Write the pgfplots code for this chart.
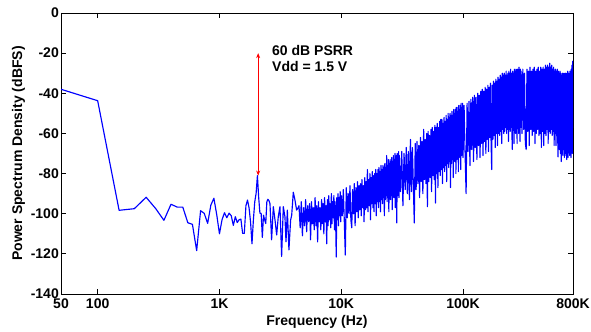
\documentclass[border=0pt]{standalone}
\usepackage{pgfplots}
\pgfplotsset{compat=1.18}
\usepackage{fontspec}
\setmainfont{Liberation Sans}
\usetikzlibrary{arrows.meta}
\definecolor{mblue}{RGB}{0,0,255}
\definecolor{mred}{RGB}{255,0,0}
\begin{document}
\fontsize{14bp}{16.7bp}\selectfont\bfseries
\begin{tikzpicture}
\begin{axis}[
  scale only axis,
  width=512bp, height=281bp,
  xmode=log,
  xmin=50, xmax=800000,
  ymin=-140, ymax=0,
  xtick={50,100,1000,10000,100000,800000},
  xticklabels={50,100,1K,10K,100K,800K},
  ytick={-140,-120,-100,-80,-60,-40,-20,0},
  yticklabels={-140,-120,-100,-80,-60,-40,-20,0},
  minor xtick={}, minor ytick={},
  tick align=inside,
  major tick length=5bp,
  tick style={black, line width=0.8bp},
  axis line style={black, line width=0.9bp},
  xticklabel style={inner sep=0pt, yshift=-5bp, font=\fontsize{14bp}{16bp}\selectfont\bfseries},
  yticklabel style={inner sep=0pt, xshift=-2bp, font=\fontsize{14bp}{16bp}\selectfont\bfseries},
  xlabel={Frequency (Hz)},
  ylabel={Power Spectrum Density (dBFS)},
  xlabel style={at={(axis description cs:0.5,0)}, anchor=north, inner sep=0pt, yshift=-21bp, font=\fontsize{14bp}{16bp}\selectfont\bfseries},
  ylabel style={at={(axis description cs:-0.083,0.5)}, anchor=center, inner sep=0pt, font=\fontsize{14bp}{16bp}\selectfont\bfseries},
  clip=true,
]
\addplot[mblue, line width=1.15bp, line join=round] table {
x y
50 -38
100 -43.7
150 -98.3
200 -97.5
250 -91.8
300 -97.5
350 -103.3
400 -95.3
450 -96.7
500 -96.7
550 -104.5
600 -105.3
650 -118.4
700 -98.5
750 -99.8
800 -104.8
850 -95.7
900 -92.3
950 -100.5
1000 -110
1050 -103
1100 -99.5
1150 -102
1200 -99.7
1250 -101
1300 -105.8
1350 -101.5
1400 -104.4
1450 -103
1500 -102.7
1550 -109.8
1600 -109.8
1650 -96
1700 -93.2
1750 -97
1800 -104
1850 -115
1900 -103
1950 -94
2000 -89.9
2050 -81
2100 -92
2150 -99.8
2200 -99.8
2250 -111.8
2300 -100.7
2350 -103
2400 -104.9
2450 -94
2500 -92.8
2550 -93.5
2600 -95
2680 -113
2770 -96.5
2860 -103.2
2950 -110.6
3040 -101.6
3140 -96.5
3240 -121.3
3345 -96.5
3450 -101.6
3520 -114
3610 -98.2
3720 -118
3840 -103.2
3920 -100.7
4040 -89.3
4170 -93.2
4300 -98.2
4400 -97.3
4500 -96
4600 -107
4700 -94
4800 -111
4900 -97
5000 -106
5100 -93
5200 -109
5300 -96
5400 -104
5500 -95
5600 -113
5700 -94
5800 -105
5900 -97
6000 -108
6100 -92
6200 -106
6300 -96
6400 -114
6500 -94
6600 -104
6700 -97
6800 -108
6900 -93
7000 -105
7100 -95
7200 -110
7300 -92
7400 -104
7500 -96
7600 -115
7700 -93
7800 -106
7900 -91
8000 -103
8100 -95
8200 -107
8300 -90
8400 -105
8500 -94
8600 -102
8700 -91
8800 -108
8900 -94
9000 -104
9100 -121.6
9200 -92
9300 -103
9400 -90
9500 -106
9600 -92
9700 -101
9800 -89
9900 -104
10000 -91
10200 -101
10400 -88
10600 -104
10800 -120.6
11000 -87
11200 -102
11400 -90
11600 -100
11800 -86
12000 -103
12200 -107
12400 -88
12600 -100
12800 -85
13000 -106
13200 -87
13400 -99
13600 -84
13800 -102
14000 -86
14200 -98
14400 -85
14600 -101
14800 -83
15000 -97
15200 -86
15400 -104
15600 -82
15800 -98
16000 -84
16200 -97
16400 -78
16600 -99
16800 -83
17000 -96
17200 -80
17400 -103
17600 -82
17800 -95
18000 -79
18200 -97
18400 -81
18600 -99
18800 -80
19000 -95
19200 -78
19400 -101
19600 -80
19800 -94
20000 -78
20200 -97
20400 -77
20600 -94
20800 -79
21000 -99
21200 -76
21400 -93
21600 -78
21800 -95
22000 -76
22200 -92
22400 -77
22600 -101
22800 -75
23000 -93
23200 -77
23400 -91
23600 -71
23800 -94
24000 -76
24200 -92
24400 -73
24600 -99
24800 -75
25000 -91
25200 -73
25400 -93
25600 -74
25800 -90
26000 -72
26200 -98
26400 -74
26600 -91
26800 -71
27000 -92
27200 -73
27400 -89
27600 -70
27800 -97
28000 -72
28200 -90
28400 -71
28600 -104.6
28800 -70
29000 -91
29200 -72
29400 -89
29600 -69
29800 -92
30000 -71
30700 -89
31400 -69
32100 -96
32800 -70
33500 -88
34200 -67
34900 -90
35600 -69
36300 -93
37000 -63
37700 -89
38400 -67
39100 -86
39800 -104.6
40500 -65
41200 -88
41900 -64
42600 -85
43300 -66
44000 -92
44700 -62
45400 -84
46100 -64
46800 -90
47500 -58
48200 -83
48900 -63
49600 -85
50300 -60
51000 -96.5
51700 -59
52400 -84
53100 -61
53800 -82
54500 -58
55200 -89
55900 -57
56600 -81
57300 -59
58000 -83
58700 -56
59400 -94.7
60100 -57
60800 -80
61500 -55
62200 -87
62900 -57
63600 -79
64300 -54
65000 -81
65700 -53
66400 -78
67100 -53
67800 -85
68500 -55
69200 -77
69900 -52
70600 -79
71300 -54
72000 -76
72700 -51
73400 -84
74100 -53
74800 -75
75500 -50
76200 -77
76900 -52
77600 -74
78300 -50
79000 -87
79700 -51
80400 -75
81100 -49
81800 -73
82500 -51
83200 -82
83900 -48
84600 -74
85300 -50
86000 -72
86700 -48
87400 -80
88100 -47
88800 -73
89500 -49
90200 -71
90900 -47
91600 -79
92300 -46
93000 -72
93700 -48
94400 -70
95100 -46
95800 -78
96500 -45
97200 -71
97900 -47
98600 -69
99300 -45
100000 -72
102000 -46
104000 -70
106000 -90
108000 -45
110000 -69
112000 -44
114000 -76
116000 -43
118000 -68
120000 -42
122000 -74
124000 -41
126000 -67
128000 -42
130000 -73
132000 -40
134000 -66
136000 -41
138000 -72
140000 -39
142000 -65
144000 -38
146000 -71
148000 -39
150000 -64
152000 -37
154000 -70
156000 -38
158000 -63
160000 -36
162000 -69
164000 -37
166000 -62
168000 -35
170000 -64
172000 -78
174000 -36
176000 -63
178000 -34
180000 -61
182000 -35
184000 -67
186000 -33
188000 -60
190000 -34
192000 -66
194000 -32
196000 -60
198000 -33
200000 -61
202000 -31
204000 -59
206000 -32
208000 -65
210000 -30
212000 -58
214000 -31
216000 -60
218000 -30
220000 -59
222000 -31
224000 -57
226000 -29
228000 -60
230000 -31
232000 -58
234000 -30
236000 -64
238000 -29
240000 -58
242000 -30
244000 -59
246000 -28
248000 -57
250000 -30
252000 -60
254000 -68
256000 -29
258000 -58
260000 -30
262000 -65
264000 -28
266000 -57
268000 -29
270000 -60
272000 -28
274000 -58
276000 -30
278000 -65
280000 -28
282000 -57
284000 -29
286000 -60
288000 -27
290000 -58
292000 -29
294000 -64
296000 -28
298000 -57
300000 -29
305000 -60
310000 -28
315000 -58
320000 -30
325000 -65
330000 -68
335000 -28
340000 -59
345000 -29
350000 -66
355000 -27
360000 -58
365000 -29
370000 -61
375000 -28
380000 -59
385000 -27
390000 -65
395000 -29
400000 -60
405000 -28
410000 -58
415000 -27
420000 -61
425000 -29
430000 -60
435000 -27
440000 -67
445000 -28
450000 -59
455000 -27
460000 -66
465000 -28
470000 -60
475000 -26
480000 -61
485000 -27
490000 -58
495000 -26
500000 -65
505000 -27
510000 -59
515000 -25
520000 -60
525000 -27
530000 -58
535000 -26
540000 -61
545000 -28
550000 -59
555000 -27
560000 -66
565000 -29
570000 -60
575000 -28
580000 -66
585000 -29
590000 -61
595000 -28
600000 -64
603000 -71.7
605000 -29
610000 -66
615000 -30
620000 -68
625000 -29
630000 -70
635000 -30
640000 -74
645000 -31
650000 -69
655000 -30
660000 -71
665000 -31
670000 -68
675000 -30
680000 -72
685000 -31
690000 -69
695000 -30
700000 -71
705000 -31
710000 -73
715000 -30
720000 -70
725000 -29
730000 -72
735000 -30
740000 -69
745000 -31
750000 -71
755000 -29
760000 -70
765000 -30
770000 -72
775000 -28
780000 -68
785000 -26
790000 -70
795000 -24
800000 -35
};
\draw[mred, line width=0.9bp, {Stealth[length=5bp,width=4bp]}-{Stealth[length=5bp,width=4bp]}] (axis cs:2080,-20) -- (axis cs:2080,-81);
\node[anchor=north west, inner sep=0pt, align=left, font=\fontsize{14bp}{16.7bp}\selectfont\bfseries] at (axis cs:2700,-15.9) {60 dB PSRR\\Vdd = 1.5 V};
\coordinate (ll) at (rel axis cs:0,0);
\coordinate (ur) at (rel axis cs:1,1);
\end{axis}
\pgfresetboundingbox
\path[use as bounding box] ([xshift=-61bp,yshift=-37bp]ll) rectangle ([xshift=18bp,yshift=13bp]ur);
\end{tikzpicture}
\end{document}
